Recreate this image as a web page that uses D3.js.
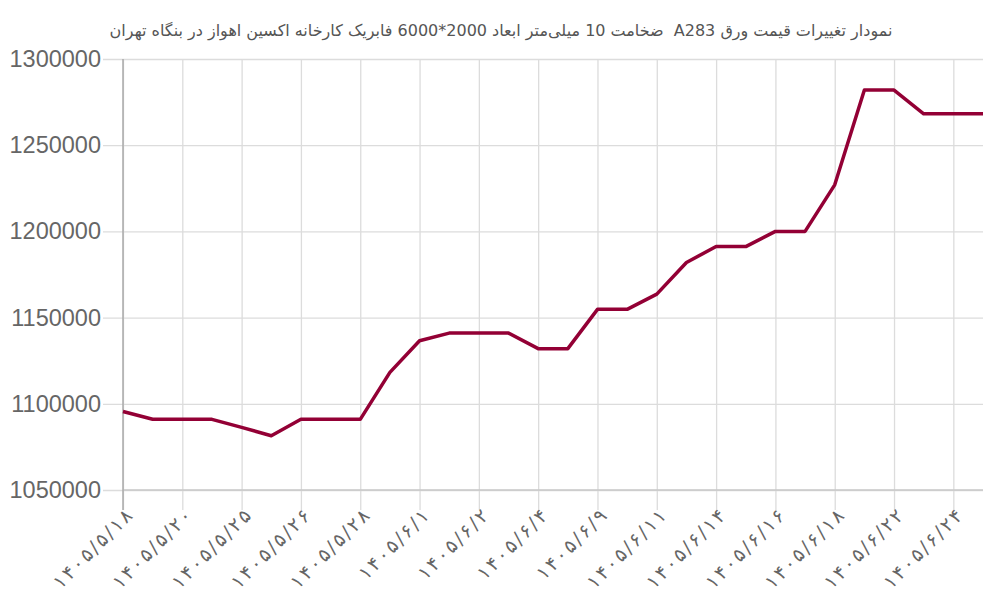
<!DOCTYPE html>
<html>
<head>
<meta charset="utf-8">
<script src="https://cdn.jsdelivr.net/npm/d3@7"></script>
<style>
  body { margin: 0; background: #fff; }
  svg { display: block; }
</style>
</head>
<body>
<div class="container"></div>
<script>
var titleText = "نمودار تغییرات قیمت ورق A283  ضخامت 10 میلی‌متر ابعاد 2000*6000 فابریک کارخانه اکسین اهواز در بنگاه تهران";

// one price per day, only every second day gets a label
var prices = [1095500, 1091000, 1091000, 1091000, 1086300, 1081500, 1091000, 1091000, 1091000, 1118200,
              1136600, 1141000, 1141000, 1141000, 1132000, 1132000, 1154800, 1154800, 1163600, 1182000,
              1191200, 1191200, 1200000, 1200000, 1227000, 1282000, 1282000, 1268200, 1268200, 1268200];

var dateLabels = ["۱۴۰۵/۵/۱۸", "۱۴۰۵/۵/۲۰", "۱۴۰۵/۵/۲۵", "۱۴۰۵/۵/۲۶", "۱۴۰۵/۵/۲۸", "۱۴۰۵/۶/۱", "۱۴۰۵/۶/۲",
                  "۱۴۰۵/۶/۴", "۱۴۰۵/۶/۹", "۱۴۰۵/۶/۱۱", "۱۴۰۵/۶/۱۴", "۱۴۰۵/۶/۱۶", "۱۴۰۵/۶/۱۸", "۱۴۰۵/۶/۲۲", "۱۴۰۵/۶/۲۴"];

var yTicks = [1050000, 1100000, 1150000, 1200000, 1250000, 1300000];

var W = 1000, H = 600;
var margin = {top: 59, right: 17, bottom: 110, left: 123};
var innerW = W - margin.left - margin.right;
var innerH = H - margin.top - margin.bottom;

var svg = d3.select('.container').append('svg').attr('width', W).attr('height', H);

svg.append('text')
	.attr('x', 501)
	.attr('y', 36)
	.attr('text-anchor', 'middle')
	.attr('direction', 'rtl')
	.attr('fill', '#555')
	.style('font-family', '"DejaVu Sans", sans-serif')
	.style('font-size', '16px')
	.style('white-space', 'pre')
	.text(titleText);

var g = svg.append('g').attr('transform', 'translate(' + margin.left + ',' + margin.top + ')');

var x = d3.scaleLinear().domain([0, prices.length - 1]).range([0, innerW]);
var y = d3.scaleLinear().domain([1050000, 1300000]).range([innerH, 0]);

// y axis + horizontal grid
var yAxis = g.append('g')
	.call(d3.axisLeft(y).tickValues(yTicks).tickSizeOuter(0).tickFormat(d3.format('d')));
yAxis.select('.domain').remove();
yAxis.selectAll('.tick line')
	.attr('x1', -20)
	.attr('x2', innerW)
	.attr('stroke', '#dcdcdc')
	.attr('stroke-width', 1.3);
yAxis.selectAll('.tick text')
	.attr('x', -22)
	.attr('fill', '#666')
	.style('font-family', '"Liberation Sans", Arial, sans-serif')
	.style('font-size', '23.5px');

// x axis + vertical grid
var tickIdx = dateLabels.map(function(d, i){ return i * 2; });
var xAxis = g.append('g')
	.attr('transform', 'translate(0,' + innerH + ')')
	.call(d3.axisBottom(x).tickValues(tickIdx).tickSizeOuter(0)
		.tickFormat(function(d){ return dateLabels[d / 2]; }));
xAxis.select('.domain').remove();
xAxis.selectAll('.tick line')
	.attr('y1', -innerH)
	.attr('y2', 20)
	.attr('stroke', '#dcdcdc')
	.attr('stroke-width', 1.3);
xAxis.selectAll('.tick text')
	.attr('fill', '#666')
	.attr('text-anchor', 'end')
	.attr('direction', 'ltr')
	.attr('y', 0)
	.attr('dy', 0)
	.attr('transform', 'translate(10,27) rotate(-45)')
	.style('font-family', '"DejaVu Sans", sans-serif')
	.style('font-size', '19px')
	.each(function(){
		// the original font is wider; spread the glyphs out a bit
		var len = this.getComputedTextLength();
		d3.select(this).attr('textLength', len * 1.22).attr('lengthAdjust', 'spacing');
	});

// bottom baseline and left axis line
g.append('line')
	.attr('x1', 0).attr('x2', innerW)
	.attr('y1', innerH).attr('y2', innerH)
	.attr('stroke', '#c8c8c8').attr('stroke-width', 1.5);
g.append('line')
	.attr('x1', 0).attr('x2', 0)
	.attr('y1', 0).attr('y2', innerH + 20)
	.attr('stroke', '#aaa').attr('stroke-width', 1.5);

var line = d3.line()
	.x(function(d, i){ return x(i); })
	.y(function(d){ return y(d); });

g.append('path')
	.datum(prices)
	.attr('d', line)
	.attr('fill', 'none')
	.attr('stroke', '#930035')
	.attr('stroke-width', 3.5)
	.attr('stroke-linejoin', 'round');
</script>
</body>
</html>
